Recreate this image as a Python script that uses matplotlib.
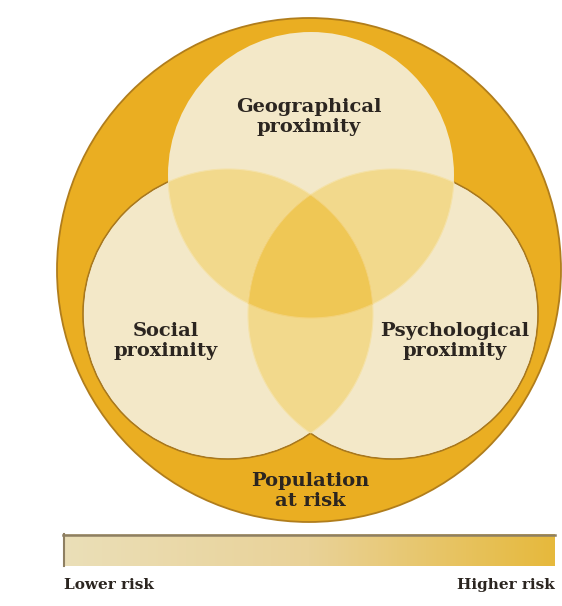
import numpy as np
import matplotlib
matplotlib.use("Agg")
import matplotlib.pyplot as plt
from matplotlib.patches import Circle, Polygon
from matplotlib.colors import LinearSegmentedColormap

# circles in pixel coords: (cx, cy, r)
outer = (309, 270, 252)
sets = ["Geographical\nproximity", "Social\nproximity", "Psychological\nproximity"]
centers = [(311, 175), (228, 314), (393, 314)]
radii = [143, 145, 145]
label_pos = [(309, 117), (166, 341), (455, 341)]
outer_label = "Population\nat risk"
outer_label_pos = (310, 491)
scale_labels = ["Lower risk", "Higher risk"]
scale_colors = ["#ebdfb8", "#e9d298", "#e6b93c"]

col_outer = "#eaae22"
col_one = "#f3e8c8"
col_two = "#f2d98c"
col_three = "#efc755"
txt = "#2b2520"


def inside(px, py, c, r):
    return (px - c[0]) ** 2 + (py - c[1]) ** 2 <= r ** 2 + 1e-6


def intersection(idx):
    # points of the convex intersection region, sorted by angle
    t = np.linspace(0, 2 * np.pi, 720)
    pts = []
    for i in idx:
        cx, cy = centers[i]
        xs = cx + radii[i] * np.cos(t)
        ys = cy + radii[i] * np.sin(t)
        keep = np.ones_like(xs, dtype=bool)
        for j in idx:
            if j != i:
                keep &= inside(xs, ys, centers[j], radii[j])
        pts.append(np.column_stack([xs[keep], ys[keep]]))
    pts = np.vstack(pts)
    m = pts.mean(axis=0)
    ang = np.arctan2(pts[:, 1] - m[1], pts[:, 0] - m[0])
    return pts[np.argsort(ang)]


fig = plt.figure(figsize=(5.62, 6.06), dpi=100)
ax = fig.add_axes([0, 0, 1, 1])
ax.set_xlim(0, 562)
ax.set_ylim(606, 0)
ax.set_aspect("equal")
ax.axis("off")

ax.add_patch(Circle(outer[:2], outer[2], fc=col_outer, ec="#b07d1c", lw=1.3))

# lower circles carry the brown rim, top circle drawn over them
for i in [1, 2]:
    ax.add_patch(Circle(centers[i], radii[i], fc=col_one, ec="#a8781e", lw=1.2))
ax.add_patch(Circle(centers[0], radii[0], fc=col_one, ec="none"))
# redraw single regions so inner arcs are hidden
for i in [1, 2]:
    ax.add_patch(Circle(centers[i], radii[i] - 1.0, fc=col_one, ec="none"))

for pair in [(0, 1), (0, 2), (1, 2)]:
    ax.add_patch(Polygon(intersection(pair), closed=True, fc=col_two,
                         ec="#f5e2a8", lw=0.8))
ax.add_patch(Polygon(intersection((0, 1, 2)), closed=True, fc=col_three,
                     ec="#f3d27a", lw=0.8))

font = dict(family="DejaVu Serif", fontweight="bold", color=txt,
            ha="center", va="center", linespacing=1.2)
for s, (x, y) in zip(sets, label_pos):
    ax.text(x, y, s, fontsize=14, **font)
ax.text(*outer_label_pos, outer_label, fontsize=14, **font)

# risk gradient bar
cmap = LinearSegmentedColormap.from_list("risk", scale_colors)
grad = np.linspace(0, 1, 256).reshape(1, -1)
ax.imshow(grad, cmap=cmap, extent=[63, 555, 566, 534], aspect="auto", zorder=2)
ax.plot([63, 555], [534.5, 534.5], color="#8e7f62", lw=1.8, zorder=3)
ax.plot([63.5, 63.5], [534, 566], color="#8e7f62", lw=1.5, zorder=3)
ax.set_xlim(0, 562)
ax.set_ylim(606, 0)

ax.text(64, 585, scale_labels[0], fontsize=11, family="DejaVu Serif",
        fontweight="bold", color=txt, ha="left", va="center")
ax.text(555, 585, scale_labels[1], fontsize=11, family="DejaVu Serif",
        fontweight="bold", color=txt, ha="right", va="center")

fig.savefig("out.png", dpi=100, facecolor="white")
